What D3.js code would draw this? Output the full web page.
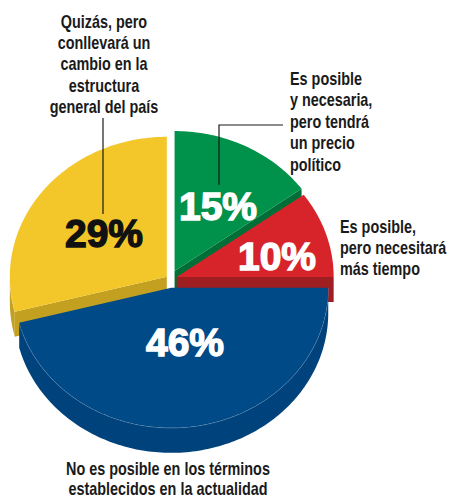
<!DOCTYPE html>
<html>
<head>
<meta charset="utf-8">
<script src="https://cdn.jsdelivr.net/npm/d3@7"></script>
<style>
  html, body { margin: 0; padding: 0; background: #fff; }
  svg { display: block; }
  .lbl { font-family: "Liberation Sans", Arial, sans-serif; font-weight: bold; fill: #1a1a1a; }
  .pct { font-family: "Liberation Sans", Arial, sans-serif; font-weight: bold; }
</style>
</head>
<body>
<div id="chart"></div>
<script>
'use strict';

// data
var categories = ['Es posible y necesaria, pero tendrá un precio político', 'Es posible, pero necesitará más tiempo', 'No es posible en los términos establecidos en la actualidad', 'Quizás, pero conllevará un cambio en la estructura general del país'];
var values = [15, 10, 46, 29];
var pctLabels = ['15%', '10%', '46%', '29%'];
var labelLines = [
  ['Es posible', 'y necesaria,', 'pero tendrá', 'un precio', 'político'],
  ['Es posible,', 'pero necesitará', 'más tiempo'],
  ['No es posible en los términos', 'establecidos en la actualidad'],
  ['Quizás, pero', 'conllevará un', 'cambio en la', 'estructura', 'general del país']
];

var width = 452;
var height = 498;

var pie3d = {
  cx: 170,
  cy: 279,
  rx: 157,
  ry: 140,
  depth: 25
};

var topColors = ['#00924a', '#d7242a', '#004a88', '#f3c72a'];
var sideColors = ['#006f37', '#9f1e22', '#00437c', '#c4a020'];
var pctColors = ['#fff', '#fff', '#fff', '#111'];
var explode = [10, 7, 10, 4];
var drawOrder = [0, 3, 1, 2];
var narrow = 0.8; // condensed look for the category labels

var svg = d3.select('#chart').append('svg').attr('width', width).attr('height', height);

var arcs = d3.pie().sort(null).value(function (d) { return d; })(values);

var k = pie3d.ry / pie3d.rx;

function pt(c, a, r, dz) {
  return [c[0] + r * Math.sin(a), c[1] - r * k * Math.cos(a) + (dz || 0)];
}

function arcPts(c, a0, a1, dz) {
  var n = Math.max(2, Math.ceil(Math.abs(a1 - a0) / 0.02));
  var s = d3.scaleLinear().domain([0, n]).range([a0, a1]);
  return d3.range(n + 1).map(function (i) { return pt(c, s(i), pie3d.rx, dz); });
}

var line = d3.line();

function centerOf(i) {
  var d = arcs[i];
  var m = (d.startAngle + d.endAngle) / 2;
  return [pie3d.cx + explode[i] * Math.sin(m), pie3d.cy - explode[i] * k * Math.cos(m)];
}

var g = svg.append('g').attr('id', 'pie');

drawOrder.forEach(function (i) {
  var d = arcs[i];
  var c = centerOf(i);
  var sg = g.append('g').attr('class', 'slice');

  // radial walls facing the viewer
  [[d.startAngle, Math.sin(d.startAngle) < -0.01], [d.endAngle, Math.sin(d.endAngle) > 0.01]].forEach(function (w) {
    if (!w[1]) return;
    var e = pt(c, w[0], pie3d.rx);
    var pts = [c, e, [e[0], e[1] + pie3d.depth], [c[0], c[1] + pie3d.depth]];
    sg.append('path').attr('d', line(pts) + 'Z').attr('fill', sideColors[i]);
  });

  // outer wall (front half only)
  var s0 = Math.max(d.startAngle, Math.PI / 2);
  var s1 = Math.min(d.endAngle, Math.PI * 1.5);
  if (s1 > s0) {
    var topEdge = arcPts(c, s0, s1, 0);
    var botEdge = arcPts(c, s1, s0, pie3d.depth);
    sg.append('path').attr('d', line(topEdge.concat(botEdge)) + 'Z').attr('fill', sideColors[i]);
    sg.append('path').attr('d', line(topEdge)).attr('fill', 'none')
      .attr('stroke', '#ffffff').attr('stroke-opacity', 0.35).attr('stroke-width', 0.8);
  }

  // top face
  var top = [c].concat(arcPts(c, d.startAngle, d.endAngle, 0));
  sg.append('path').attr('d', line(top) + 'Z').attr('fill', topColors[i]);
});

// percentage labels
var pctPos = [[218, 220], [277, 270], [185, 356], [104, 247]];
pctLabels.forEach(function (t, i) {
  svg.append('text').attr('class', 'pct')
    .attr('x', pctPos[i][0]).attr('y', pctPos[i][1])
    .attr('text-anchor', 'middle')
    .attr('font-size', 39)
    .attr('fill', pctColors[i]).attr('stroke', pctColors[i]).attr('stroke-width', 1.4)
    .text(t);
});

// category labels
var labelPos = [
  { x: 290, y: 85, anchor: 'start', step: 21.5 },
  { x: 340, y: 233, anchor: 'start', step: 21 },
  { x: 168, y: 475, anchor: 'middle', step: 20 },
  { x: 104, y: 28, anchor: 'middle', step: 21.25 }
];
labelLines.forEach(function (lines, i) {
  var p = labelPos[i];
  var lg = svg.append('g').attr('transform', 'translate(' + p.x + ',0) scale(' + narrow + ',1)');
  var t = lg.append('text').attr('class', 'lbl')
    .attr('x', 0).attr('y', p.y)
    .attr('text-anchor', p.anchor)
    .attr('font-size', 18);
  t.append('title').text(categories[i]);
  lines.forEach(function (l, j) {
    t.append('tspan').attr('x', 0).attr('y', p.y + j * p.step).text(l);
  });
});

// leader lines
svg.append('path').attr('d', 'M 103 118 L 103 214').attr('stroke', '#1a1a1a').attr('stroke-width', 1.2).attr('fill', 'none');
svg.append('path').attr('d', 'M 283 125 L 219 125 L 219 185').attr('stroke', '#1a1a1a').attr('stroke-width', 1.2).attr('fill', 'none');
</script>
</body>
</html>
